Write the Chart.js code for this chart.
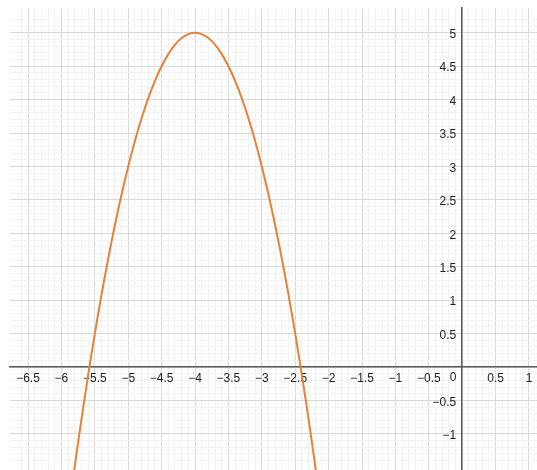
<!DOCTYPE html>
<html>
<head>
<meta charset="utf-8">
<script src="https://cdn.jsdelivr.net/npm/chart.js@4.4.1/dist/chart.umd.min.js"></script>
<style>
  body { margin: 0; background: #fff; }
  #wrap { width: 537px; height: 470px; position: relative; }
</style>
</head>
<body>
<div id="wrap"><canvas id="graph"></canvas></div>
<script>
// Puntos de la parábola
const xValues = [-6.0, -5.8, -5.6, -5.4, -5.2, -5.0, -4.8, -4.6, -4.4, -4.2, -4.0,
  -3.8, -3.6, -3.4, -3.2, -3.0, -2.8, -2.6, -2.4, -2.2, -2.0];
const yValues = [-3.0, -1.48, -0.12, 1.08, 2.12, 3.0, 3.72, 4.28, 4.68, 4.92, 5.0,
  4.92, 4.68, 4.28, 3.72, 3.0, 2.12, 1.08, -0.12, -1.48, -3.0];

// Rangos de los ejes
const xRange = [-6.77, 1.12];
const yRange = [-1.54, 5.37];

const minus = "\u2212";
const fontFamily = "Helvetica, Arial, 'Liberation Sans', sans-serif";

function isStep(v, step) {
  let n = v / step;
  return Math.abs(n - Math.round(n)) < 1e-6;
}

function formatTick(v) {
  let r = Math.round(v * 10) / 10;
  if (r === 0) return "0";
  return (r < 0 ? minus : "") + Math.abs(r);
}

function gridColor(ctx) {
  let v = ctx.tick ? ctx.tick.value : 0;
  if (!isStep(v, 0.1)) return "rgba(0,0,0,0)";
  return isStep(v, 0.5) ? "#d9d9d9" : "#f2f2f2";
}

// Los ejes centrados no deben ocupar espacio
function noSpace(scale) {
  if (scale.isHorizontal()) scale.height = 0;
  else scale.width = 0;
  scale.paddingLeft = 0;
  scale.paddingRight = 0;
  scale.paddingTop = 0;
  scale.paddingBottom = 0;
}

// Etiqueta "0" del eje x, corrida a la izquierda del eje y
const zeroLabel = {
  id: "zeroLabel",
  afterDraw(chart) {
    let ctx = chart.ctx;
    let x = chart.scales.x.getPixelForValue(0);
    let y = chart.scales.y.getPixelForValue(0);
    ctx.save();
    ctx.font = "12px " + fontFamily;
    ctx.fillStyle = "#222";
    ctx.textAlign = "center";
    ctx.textBaseline = "middle";
    ctx.fillText("0", x - 9, y + 11);
    ctx.restore();
  },
};

let points = xValues.map((x, i) => ({ x: x, y: yValues[i] }));

new Chart(document.getElementById("graph"), {
  type: "scatter",
  data: {
    datasets: [
      {
        data: points,
        showLine: true,
        borderColor: "#e8803a",
        borderWidth: 2,
        pointRadius: 0,
        tension: 0.4,
      },
    ],
  },
  options: {
    responsive: true,
    maintainAspectRatio: false,
    animation: false,
    layout: { padding: { left: 10, top: 8, right: 0, bottom: 0 } },
    plugins: { legend: { display: false }, tooltip: { enabled: false } },
    scales: {
      x: {
        type: "linear",
        position: { y: 0 },
        min: xRange[0],
        max: xRange[1],
        afterFit: noSpace,
        grid: { color: gridColor, lineWidth: 1, drawTicks: false, z: -1 },
        border: { color: "#5a5a5a", width: 1.5 },
        ticks: {
          stepSize: 0.1,
          autoSkip: false,
          maxRotation: 0,
          padding: 4,
          color: "#222",
          font: { size: 12, family: fontFamily },
          callback: (v) => (isStep(v, 0.5) && Math.abs(v) > 1e-6 ? formatTick(v) : ""),
        },
      },
      y: {
        type: "linear",
        position: { x: 0 },
        min: yRange[0],
        max: yRange[1],
        afterFit: noSpace,
        grid: { color: gridColor, lineWidth: 1, drawTicks: false, z: -1 },
        border: { color: "#5a5a5a", width: 1.5 },
        ticks: {
          stepSize: 0.1,
          autoSkip: false,
          labelOffset: 2,
          color: "#222",
          font: { size: 12, family: fontFamily },
          // espacio al final para separar la etiqueta del eje
          callback: (v) => (isStep(v, 0.5) && Math.abs(v) > 1e-6 ? formatTick(v) + "\u2002" : ""),
        },
      },
    },
  },
  plugins: [zeroLabel],
});
</script>
</body>
</html>
